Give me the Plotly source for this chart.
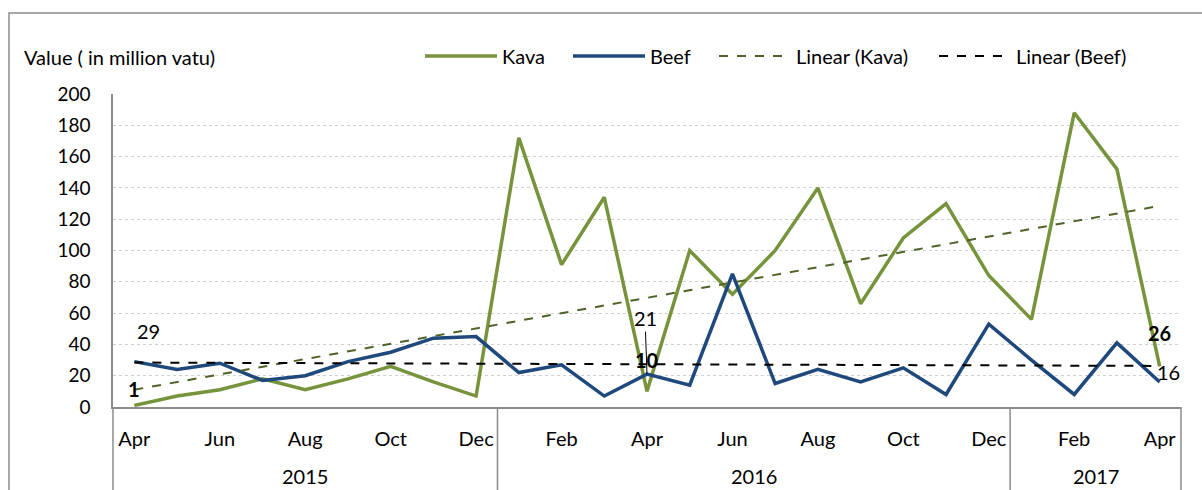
import numpy as np
import plotly.graph_objects as go

# ---------------- data ----------------
months = ["Apr", "May", "Jun", "Jul", "Aug", "Sep", "Oct", "Nov", "Dec",
          "Jan", "Feb", "Mar", "Apr", "May", "Jun", "Jul", "Aug", "Sep", "Oct", "Nov", "Dec",
          "Jan", "Feb", "Mar", "Apr"]
years = ["2015", "2016", "2017"]
year_counts = [9, 12, 4]
kava = [1, 7, 11, 18, 11, 18, 26, 16, 7,
        172, 91, 134, 10, 100, 72, 100, 140, 66, 108, 130, 84,
        56, 188, 152, 26]
beef = [29, 24, 28, 17, 20, 29, 35, 44, 45,
        22, 27, 7, 21, 14, 85, 15, 24, 16, 25, 8, 53,
        30, 8, 41, 16]
y_ticks = list(range(0, 201, 20))

# ---------------- styling ----------------
FONT = "Lato"
KAVA_C = "#77933C"
BEEF_C = "#1F497D"
KAVA_TREND_C = "#4F6228"
AXIS_C = "#8C8C8C"
GRID_C = "#D0D0D0"

W, H = 1202, 490
ML, MR, MT, MB = 113, 21, 94, 83
PW, PH = W - ML - MR, H - MT - MB

x = np.arange(len(months))
XR = [-0.5, len(months) - 0.5]

def px_to_paper_x(px):
    return (px - ML) / PW

def px_to_paper_y(py):
    return (H - MB - py) / PH

def idx_to_paper_x(v):
    return (v - XR[0]) / (XR[1] - XR[0])

kava_fit = np.polyval(np.polyfit(x, kava, 1), x)
beef_fit = np.polyval(np.polyfit(x, beef, 1), x)

fig = go.Figure()
fig.add_trace(go.Scatter(x=x, y=kava, mode="lines", name="Kava",
                         line=dict(color=KAVA_C, width=3.5), legend="legend", showlegend=True))
fig.add_trace(go.Scatter(x=x, y=beef, mode="lines", name="Beef",
                         line=dict(color=BEEF_C, width=3.5), legend="legend2", showlegend=True))
fig.add_trace(go.Scatter(x=x, y=kava_fit, mode="lines", name="Linear (Kava)",
                         line=dict(color=KAVA_TREND_C, width=2, dash="dash"), legend="legend3",
                         showlegend=True))
fig.add_trace(go.Scatter(x=x, y=beef_fit, mode="lines", name="Linear (Beef)",
                         line=dict(color="black", width=2, dash="dash"), legend="legend4",
                         showlegend=True))

# ---------------- data labels ----------------
lab_font = dict(family=FONT, size=20, color="black")
labels = [
    # (index, value, text, bold, xshift, yshift)
    (0, beef[0], str(beef[0]), False, 14, 31),
    (0, kava[0], str(kava[0]), True, 0, 16),
    (12, kava[12], str(kava[12]), True, 0, 31),
    (24, kava[24], str(kava[24]), True, 0, 33),
    (24, beef[24], str(beef[24]), False, 9, 10),
]
for i, v, t, b, xs, ys in labels:
    fig.add_annotation(x=i, y=v, text=f"<b>{t}</b>" if b else t, showarrow=False,
                       xshift=xs, yshift=ys, font=lab_font)
# leader-lined label for Beef Apr 2016
fig.add_annotation(x=12, y=beef[12], text=str(beef[12]), showarrow=True,
                   arrowhead=0, arrowwidth=1, arrowcolor="black",
                   ax=-2, ay=-56, font=lab_font)

# ---------------- year labels & dividers ----------------
shapes = []
start = 0
bounds = [XR[0]]
for yr, n in zip(years, year_counts):
    center = start + (n - 1) / 2
    fig.add_annotation(x=center, xref="x", y=px_to_paper_y(476), yref="paper",
                       yanchor="middle", text=yr, showarrow=False,
                       font=dict(family=FONT, size=20, color="black"))
    start += n
    bounds.append(start - 0.5)
for b in bounds:
    shapes.append(dict(type="line", xref="paper", yref="paper",
                       x0=idx_to_paper_x(b), x1=idx_to_paper_x(b), y0=0, y1=-1,
                       line=dict(color=AXIS_C, width=1.5)))
# outer chart border
shapes.append(dict(type="rect", xref="paper", yref="paper",
                   x0=px_to_paper_x(9), x1=px_to_paper_x(1300),
                   y0=px_to_paper_y(13), y1=px_to_paper_y(700),
                   line=dict(color=AXIS_C, width=1.5), fillcolor="rgba(0,0,0,0)"))

fig.add_annotation(x=px_to_paper_x(22), xref="paper", xanchor="left",
                   y=px_to_paper_y(57), yref="paper", yanchor="middle",
                   text="Value ( in million vatu)", showarrow=False,
                   font=dict(family=FONT, size=20, color="black"))

ITEM_W = 72
TEXT_OFF = ITEM_W + 10
leg_common = dict(orientation="h", yanchor="middle", xanchor="left", visible=True,
                  y=px_to_paper_y(56), font=dict(family=FONT, size=20, color="black"),
                  bgcolor="rgba(0,0,0,0)", itemwidth=ITEM_W)
fig.update_layout(
    width=W, height=H,
    showlegend=True,
    margin=dict(l=ML, r=MR, t=MT, b=MB),
    paper_bgcolor="white", plot_bgcolor="white",
    font=dict(family=FONT, size=18, color="black"),
    shapes=shapes,
    legend=dict(x=px_to_paper_x(502 - TEXT_OFF), **leg_common),
    legend2=dict(x=px_to_paper_x(650 - TEXT_OFF), **leg_common),
    legend3=dict(x=px_to_paper_x(796 - TEXT_OFF), **leg_common),
    legend4=dict(x=px_to_paper_x(1016 - TEXT_OFF), **leg_common),
    xaxis=dict(range=XR, tickmode="array", tickvals=list(x[::2]),
               ticktext=months[::2], showgrid=False, zeroline=False,
               showline=True, linecolor=AXIS_C, linewidth=1.5,
               ticks="", ticklabelstandoff=13,
               tickfont=dict(family=FONT, size=20, color="black")),
    yaxis=dict(range=[0, 200], tickmode="array", tickvals=y_ticks,
               showgrid=True, gridcolor=GRID_C, griddash="dot", gridwidth=1,
               zeroline=False, showline=True, linecolor=AXIS_C, linewidth=1.5,
               ticks="", ticklabelstandoff=17,
               tickfont=dict(family=FONT, size=19, color="black")),
)

fig.write_html("out.html", config={"displayModeBar": False},
               post_script="document.body.style.margin='0';document.body.style.overflow='hidden';")
